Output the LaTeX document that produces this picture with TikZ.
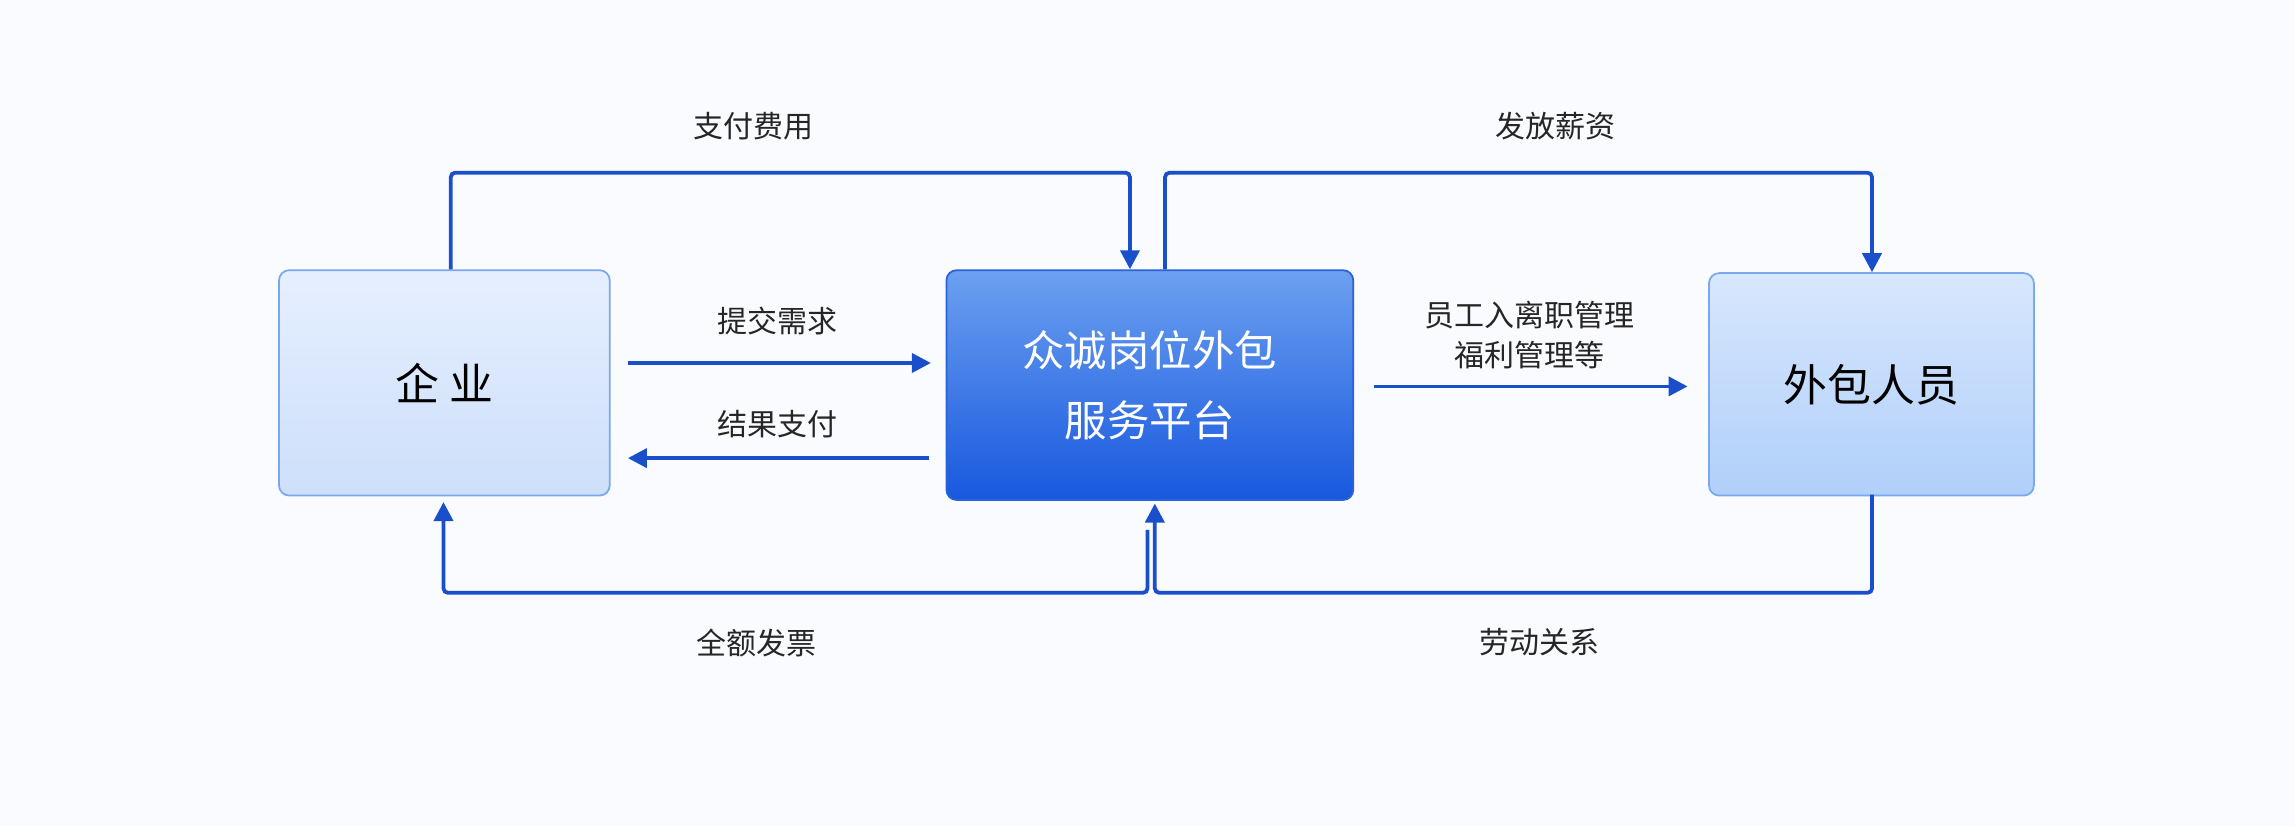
\documentclass[tikz,border=0pt]{standalone}
\usepackage{fontspec}
\setmainfont{Noto Sans CJK SC}
\usetikzlibrary{arrows.meta}
\definecolor{ln}{HTML}{1A4FCC}
\definecolor{bd}{HTML}{7AA8EE}
\definecolor{bd2}{HTML}{2A62D8}
\definecolor{bg}{HTML}{FAFBFE}
\begin{document}
\begin{tikzpicture}[x=1pt,y=-1pt,
  box/.style={draw=#1,line width=1.2pt,rounded corners=7pt,inner sep=0pt},
  lab/.style={font=\fontsize{20.5}{24}\selectfont,text=black!85},
  con/.style={draw=ln,line width=2.6pt,rounded corners=3pt},
  arr/.style={con,-{Triangle[length=13pt,width=13pt]}}]
\useasboundingbox[fill=bg] (0,0) rectangle (1568,564);
\node[box=bd,top color={rgb,255:red,230;green,239;blue,255},bottom color={rgb,255:red,205;green,223;blue,250},minimum width=226pt,minimum height=154pt,anchor=north west] (qy) at (190,184) {};
\node[font=\fontsize{30}{36}\selectfont] at (qy.center) {企\ 业};
\node[box=bd2,top color={rgb,255:red,108;green,160;blue,240},bottom color={rgb,255:red,24;green,88;blue,222},minimum width=278pt,minimum height=157pt,anchor=north west] (pt) at (646,184) {};
\node[font=\fontsize{29}{48}\selectfont,text=white,align=center] at (pt.center) {众诚岗位外包\\服务平台};
\node[box=bd,top color={rgb,255:red,216;green,231;blue,253},bottom color={rgb,255:red,176;green,207;blue,250},minimum width=222pt,minimum height=152pt,anchor=north west] (wb) at (1167,186) {};
\node[font=\fontsize{30}{36}\selectfont] at (wb.center) {外包人员};
\coordinate (a1) at (308,184);
\coordinate (a2) at (772,184);
\draw[arr] (a1) |- (540,118) -| (a2);
\node[lab] (l1) at (515,86) {支付费用};
\coordinate (b1) at (796,184);
\coordinate (b2) at (1279,186);
\draw[arr] (b1) |- (1040,118) -| (b2);
\node[lab] (l2) at (1063,86) {发放薪资};
\coordinate (c1) at (429,248); \coordinate (c2) at (636,248);
\draw[arr] (c1) -- (c2);
\node[lab] (l3) at (531,219) {提交需求};
\coordinate (d1) at (635,313); \coordinate (d2) at (429,313);
\draw[arr] (d1) -- (d2);
\node[lab] (l4) at (531,290) {结果支付};
\coordinate (e1) at (939,264); \coordinate (e2) at (1153,264);
\draw[arr] (e1) -- (e2);
\node[lab,align=center,font=\fontsize{20.5}{27}\selectfont] (l5) at (1045,229) {员工入离职管理\\福利管理等};
\coordinate (f1) at (1279,338); \coordinate (f2) at (789,344);
\draw[arr] (f1) |- (1000,405) -| (f2);
\coordinate (g1) at (784,362); \coordinate (g2) at (303,343);
\draw[arr] (g1) |- (540,405) -| (g2);
\node[lab] (l6) at (517,439) {全额发票};
\node[lab] (l7) at (1052,439) {劳动关系};
\end{tikzpicture}
\end{document}
